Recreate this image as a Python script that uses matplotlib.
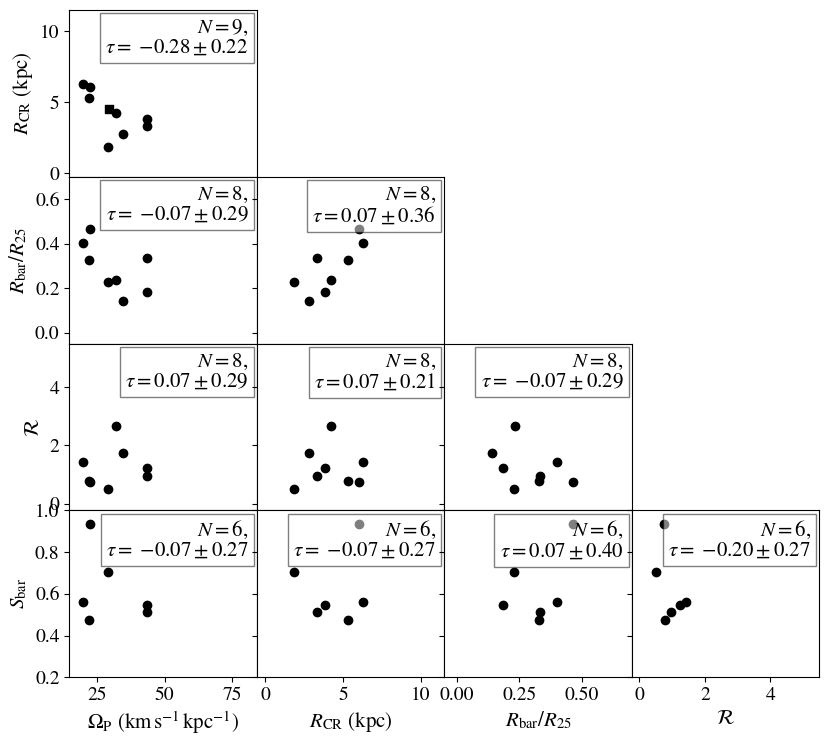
import numpy as np
import matplotlib.pyplot as plt

plt.rc('mathtext', fontset='stix')
plt.rc('font', family='STIXGeneral', size=14)

# one entry per galaxy (nan = not measured)
omega_p = [19.8, 22.6, 22.2, 29.3, 31.9, 29.0, 34.6, 43.4, 43.4]
r_cr = [6.27, 6.06, 5.33, 4.55, 4.24, 1.88, 2.80, 3.82, 3.34]
r_bar = [0.402, 0.465, 0.328, np.nan, 0.234, 0.229, 0.140, 0.183, 0.334]
rr = [1.42, 0.75, 0.78, np.nan, 2.66, 0.50, 1.73, 1.23, 0.96]
s_bar = [0.56, 0.935, 0.473, np.nan, np.nan, 0.705, np.nan, 0.549, 0.511]
special = [False, False, False, True, False, False, False, False, False]

labels = [r'$\Omega_{\rm P}$ (km$\,$s$^{-1}\,$kpc$^{-1}$)', r'$R_{\rm CR}$ (kpc)',
          r'$R_{\rm bar}/R_{25}$', r'$\mathcal{R}$', r'$S_{\rm bar}$']
params = [omega_p, r_cr, r_bar, rr, s_bar]
limits = [(14.8, 84.1), (-0.54, 11.52), (-0.05, 0.70), (-0.235, 5.49), (0.2, 1.0)]
ylimits = [(-0.24, 11.49), (-0.05, 0.70), (-0.23, 5.49), (0.2, 1.0)]
ticks = [[25, 50, 75], [0, 5, 10], [0, 0.25, 0.5], [0, 2, 4], [0.2, 0.4, 0.6, 0.8, 1.0]]
yticks = [[0, 5, 10], [0.0, 0.2, 0.4, 0.6], [0, 2, 4], [0.2, 0.4, 0.6, 0.8, 1.0]]
ytick_fmt = ['%d', '%.1f', '%d', '%.1f']
xtick_fmt = ['%d', '%d', '%.2f', '%d']

# Kendall tau and error, row by row (lower triangle)
tau = [[-0.28], [-0.07, 0.07], [0.07, 0.07, -0.07], [-0.07, -0.07, 0.07, -0.20]]
tau_err = [[0.22], [0.29, 0.36], [0.29, 0.21, 0.29], [0.27, 0.27, 0.40, 0.27]]

fig, axes = plt.subplots(4, 4, figsize=(8.3, 7.45), dpi=100)
fig.subplots_adjust(left=0.0835, right=0.987, top=0.9866, bottom=0.0909, wspace=0, hspace=0)

for i in range(4):
    for j in range(4):
        ax = axes[i, j]
        if j > i:
            ax.remove()
            continue
        x = np.array(params[j], dtype=float)
        y = np.array(params[i + 1], dtype=float)
        sp = np.array(special)
        ok = ~np.isnan(x) & ~np.isnan(y)
        ax.scatter(x[ok & ~sp], y[ok & ~sp], color='k', s=36)
        if (ok & sp).any():
            ax.scatter(x[ok & sp], y[ok & sp], color='k', marker='s', s=36)
        ax.set_xlim(limits[j])
        ax.set_ylim(ylimits[i])
        ax.set_xticks(ticks[j])
        ax.set_yticks(yticks[i])
        if j == 0:
            ax.set_yticklabels([ytick_fmt[i] % v for v in yticks[i]])
            ax.set_ylabel(labels[i + 1], fontsize=15)
        else:
            ax.set_yticklabels([])
        if i == 3:
            ax.set_xticklabels([xtick_fmt[j] % v for v in ticks[j]])
            ax.set_xlabel(labels[j], fontsize=15)
        else:
            ax.set_xticklabels([])
        t = tau[i][j]
        tstr = r'\ {-}%.2f' % abs(t) if t < 0 else '%.2f' % t
        txt = r'$N=%d$,' % ok.sum() + '\n' + r'$\tau=%s\pm%.2f$' % (tstr, tau_err[i][j])
        ax.annotate(txt, xy=(1, 1), xycoords='axes fraction', xytext=(-6, -6),
                    textcoords='offset points', ha='right', va='top',
                    fontsize=15, linespacing=1.0,
                    bbox=dict(boxstyle='square,pad=0.25', fc='w', ec='k', alpha=0.5))

plt.savefig('out.png')
